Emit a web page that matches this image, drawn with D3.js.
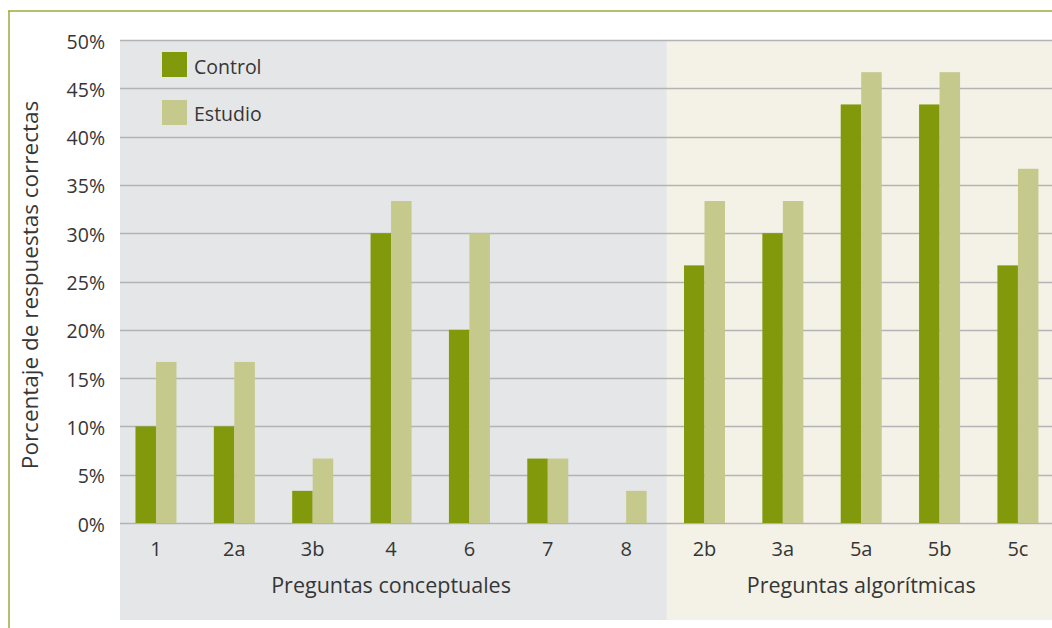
<!DOCTYPE html>
<html><head><meta charset="utf-8">
<script src="https://cdn.jsdelivr.net/npm/d3@7"></script>
<style>
body{margin:0;background:#fff;}
text{font-family:"Open Sans",Lato,sans-serif;fill:#363636;}
</style></head>
<body><svg id="c" width="1052" height="628"></svg>
<script>
const categories = ["1","2a","3b","4","6","7","8","2b","3a","5a","5b","5c"];
const groups = ["Preguntas conceptuales","Preguntas algorítmicas"];
const groupOf = [0,0,0,0,0,0,0,1,1,1,1,1];
const series = ["Control","Estudio"];
const control = [10,10,3.33,30,20,6.67,0,26.67,30,43.33,43.33,26.67];
const estudio = [16.67,16.67,6.67,33.33,30,6.67,3.33,33.33,33.33,46.67,46.67,36.67];
const yTicks = [0,5,10,15,20,25,30,35,40,45,50];
const colors = ["#82990c","#c5c98b"];
const groupBg = ["#e5e6e8","#f4f2e7"];

const svg = d3.select("#c");
const plotLeft = 120, step = 78.36, bandStart = 116.8;
const x0 = d3.scaleBand().domain(categories).range([bandStart, bandStart + step*categories.length]).padding(0);
const x1 = d3.scaleBand().domain(series).range([0, x0.bandwidth()]).paddingInner(0).paddingOuter(0.911);
const y = d3.scaleLinear().domain([0,50]).range([523,40]);

// frame
svg.append("line").attr("x1",8).attr("x2",1052).attr("y1",11).attr("y2",11).attr("stroke","#9aab3c").attr("stroke-width",1.5);
svg.append("line").attr("x1",9).attr("x2",9).attr("y1",11).attr("y2",628).attr("stroke","#9aab3c").attr("stroke-width",1.5);

// group backgrounds
const bounds = [];
groups.forEach((g,gi)=>{
  const cats = categories.filter((c,i)=>groupOf[i]===gi);
  const a = x0(cats[0]), b = x0(cats[cats.length-1]) + x0.bandwidth();
  bounds.push([a,b]);
});
const edges = [plotLeft, (bounds[0][1]+bounds[1][0])/2 + 1.5, 1052];
groups.forEach((g,gi)=>{
  svg.append("rect").attr("x",edges[gi]).attr("y",40).attr("width",edges[gi+1]-edges[gi]).attr("height",580).attr("fill",groupBg[gi]);
  svg.append("text").attr("x",(bounds[gi][0]+bounds[gi][1])/2).attr("y",593).attr("text-anchor","middle").attr("font-size",21.5).text(g);
});

// gridlines
svg.append("g").selectAll("line").data(yTicks).join("line")
  .attr("x1",plotLeft).attr("x2",1052).attr("y1",d=>Math.round(y(d))+0.5).attr("y2",d=>Math.round(y(d))+0.5)
  .attr("stroke","#b3b3b5").attr("stroke-width",1.5);

// y axis labels
svg.append("g").selectAll("text").data(yTicks).join("text")
  .attr("x",105).attr("y",d=>y(d)+8.5).attr("text-anchor","end").attr("font-size",19.5).text(d=>d+"%");

// bars
const data = categories.map((c,i)=>({cat:c, vals:[control[i],estudio[i]]}));
const gb = svg.append("g").selectAll("g").data(data).join("g").attr("transform",d=>`translate(${x0(d.cat)},0)`);
gb.selectAll("rect").data(d=>d.vals.map((v,k)=>({s:series[k],v,k}))).join("rect")
  .attr("x",d=>x1(d.s)).attr("width",x1.bandwidth()).attr("y",d=>y(d.v)).attr("height",d=>y(0)-y(d.v)).attr("fill",d=>colors[d.k]);

// category labels
svg.append("g").selectAll("text").data(categories).join("text")
  .attr("x",d=>x0(d)+x0.bandwidth()/2).attr("y",556).attr("text-anchor","middle").attr("font-size",20).text(d=>d);

// y title
svg.append("text").attr("transform","translate(38,285) rotate(-90)").attr("text-anchor","middle").attr("font-size",22.5).text("Porcentaje de respuestas correctas");

// legend
series.forEach((s,i)=>{
  svg.append("rect").attr("x",162).attr("y",52+i*48).attr("width",25).attr("height",25).attr("fill",colors[i]);
  svg.append("text").attr("x",194).attr("y",74+i*47).attr("font-size",19.5).text(s);
});
</script></body></html>
